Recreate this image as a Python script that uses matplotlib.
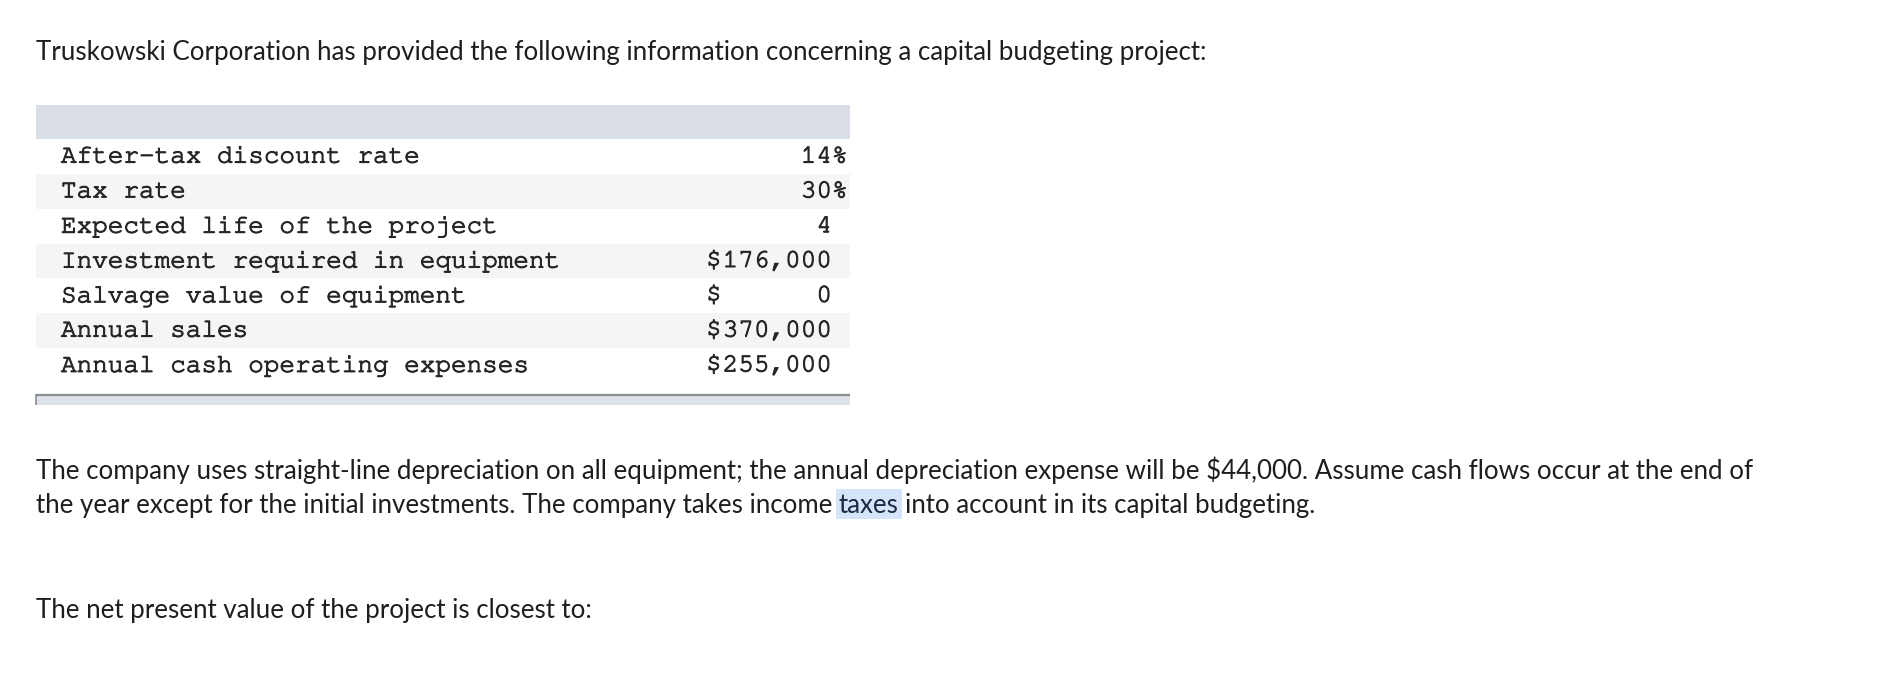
import matplotlib
matplotlib.use("Agg")
import matplotlib.pyplot as plt
from matplotlib.patches import Rectangle
from matplotlib import font_manager
import matplotlib.patheffects as pe

# ---- content ----
title = "Truskowski Corporation has provided the following information concerning a capital budgeting project:"
row_labels = [
    "After-tax discount rate",
    "Tax rate",
    "Expected life of the project",
    "Investment required in equipment",
    "Salvage value of equipment",
    "Annual sales",
    "Annual cash operating expenses",
]
row_values = ["14%", "30%", "4", "176,000", "0", "370,000", "255,000"]
row_dollar = [False, False, False, True, True, True, True]
para_line1 = ("The company uses straight-line depreciation on all equipment; the annual depreciation "
              "expense will be $44,000. Assume cash flows occur at the end of")
para_line2_pre = "the year except for the initial investments. The company takes income "
para_line2_hl = "taxes"
para_line2_post = " into account in its capital budgeting."
question = "The net present value of the project is closest to:"

W, H = 1883, 695
fig = plt.figure(figsize=(W / 100, H / 100), dpi=100)
ax = fig.add_axes([0, 0, 1, 1])
ax.set_xlim(0, W)
ax.set_ylim(H, 0)
ax.axis("off")


def pick(cands, default):
    for c in cands:
        try:
            font_manager.findfont(font_manager.FontProperties(family=c), fallback_to_default=False)
            return c
        except Exception:
            pass
    return default

SANS = ["Lato", "DejaVu Sans"]
MONO = [pick(["Nimbus Mono PS", "Nimbus Mono L", "FreeMono", "Courier New", "Courier"], "Liberation Mono"),
        "DejaVu Sans Mono"]
TXT = "#1e1e1e"
MTXT = "#262626"
thick = [pe.withStroke(linewidth=0.75, foreground=MTXT)]

renderer = fig.canvas.get_renderer()


def text_width(t):
    return t.get_window_extent(renderer=renderer).width

# fit prose font size so title spans the reference width
tmp = ax.text(0, 0, title, family=SANS, fontsize=17)
w17 = text_width(tmp)
tmp.remove()
prose_fs = 17 * (1165 / w17)

left = 36
dy = 2.5
ax.text(left, 50 + dy, title, family=SANS, fontsize=prose_fs, color=TXT, va="center", ha="left")

# ---- table ----
tx0, tx1 = 36, 850
head_top, head_h = 104.5, 34.7
row_h = 34.8
ax.add_patch(Rectangle((tx0, head_top), tx1 - tx0, head_h, facecolor="#d9dde6", edgecolor="none"))
char_w = 15.6
mono_fs = char_w / 0.6 * 72 / 100
mkw = dict(family=MONO, fontsize=mono_fs, color=MTXT, va="center", path_effects=thick)
for i, (lab, val, dol) in enumerate(zip(row_labels, row_values, row_dollar)):
    y0 = head_top + head_h + i * row_h
    if i % 2 == 1:
        ax.add_patch(Rectangle((tx0, y0), tx1 - tx0, row_h, facecolor="#f5f5f5", edgecolor="none"))
    yc = y0 + row_h / 2 + 1
    ax.text(61, yc, lab, ha="left", **mkw)
    xr = 832 + (char_w if val.endswith("%") else 0)
    ax.text(xr, yc, val, ha="right", **mkw)
    if dol:
        ax.text(706, yc, "$", ha="left", **mkw)

# bottom bar
bb_top = 394
ax.add_patch(Rectangle((tx0, bb_top), tx1 - tx0, 11, facecolor="#dde1ea", edgecolor="none"))
ax.plot([tx0, tx1], [bb_top + 0.5, bb_top + 0.5], color="#8a8d92", lw=1.6, solid_capstyle="butt")
ax.plot([tx0 + 0.5, tx0 + 0.5], [bb_top, bb_top + 11], color="#8a8d92", lw=1.2, solid_capstyle="butt")

# ---- paragraph ----
y1, y2 = 468 + dy, 503 + dy
ax.text(left, y1, para_line1, family=SANS, fontsize=prose_fs, color=TXT, va="center", ha="left")
ax.text(left, y2, para_line2_pre, family=SANS, fontsize=prose_fs, color=TXT, va="center", ha="left")
tsp = ax.text(0, 0, "a a", family=SANS, fontsize=prose_fs)
tsa = ax.text(0, 0, "aa", family=SANS, fontsize=prose_fs)
sp_w = text_width(tsp) - text_width(tsa)
tsp.remove(); tsa.remove()
tpre2 = ax.text(0, 0, para_line2_pre.rstrip(), family=SANS, fontsize=prose_fs)
wpre_trim = text_width(tpre2)
tpre2.remove()
x_hl = left + wpre_trim + sp_w
thl = ax.text(x_hl, y2, para_line2_hl, family=SANS, fontsize=prose_fs, color="#1b2a40", va="center", ha="left")
whl = text_width(thl)
ax.add_patch(Rectangle((x_hl - 3, 489), whl + 6, 30, facecolor="#d6e4f9", edgecolor="none", zorder=0))
ax.text(x_hl + whl + sp_w, y2, para_line2_post.lstrip(), family=SANS, fontsize=prose_fs, color=TXT,
        va="center", ha="left")

ax.text(left, 608 + dy, question, family=SANS, fontsize=prose_fs, color=TXT, va="center", ha="left")

fig.savefig("out.png", dpi=100, facecolor="white")
